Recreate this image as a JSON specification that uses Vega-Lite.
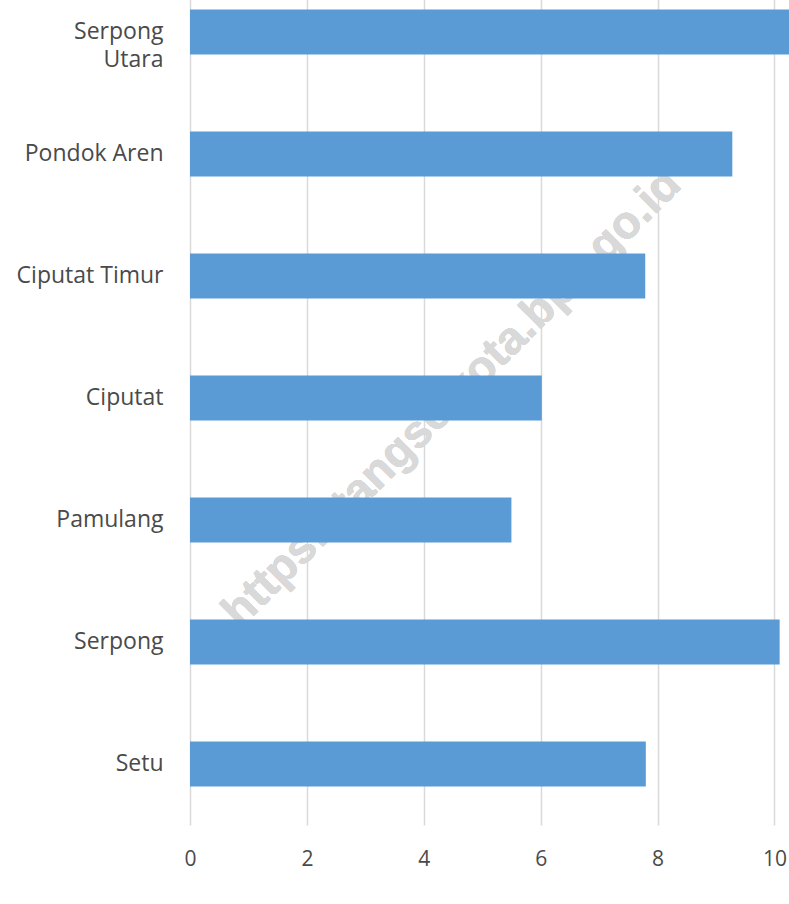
{
  "$schema": "https://vega.github.io/schema/vega-lite/v6.json",
  "autosize": "none",
  "width": 599,
  "height": 854,
  "padding": {"left": 190, "top": -29, "right": 0, "bottom": 79},
  "background": "white",
  "config": {
    "view": {"stroke": null},
    "font": "Open Sans"
  },
  "data": {
    "values": [
      {"kecamatan": "Serpong Utara", "nilai": 10.4},
      {"kecamatan": "Pondok Aren", "nilai": 9.28},
      {"kecamatan": "Ciputat Timur", "nilai": 7.79},
      {"kecamatan": "Ciputat", "nilai": 6.02},
      {"kecamatan": "Pamulang", "nilai": 5.5},
      {"kecamatan": "Serpong", "nilai": 10.09},
      {"kecamatan": "Setu", "nilai": 7.8}
    ]
  },
  "layer": [
    {
      "mark": {"type": "text", "text": "https://tangselkota.bps.go.id", "angle": -45, "fontSize": 46, "fontWeight": "bold", "color": "#d9d9d9", "font": "Liberation Sans", "align": "center", "baseline": "middle"},
      "encoding": {
        "x": {"datum": 4.48, "type": "quantitative"},
        "y": {"datum": "Ciputat", "type": "nominal"}
      }
    },
    {
      "mark": {"type": "bar", "color": "#5B9BD5"},
      "encoding": {
        "y": {
          "field": "kecamatan",
          "type": "nominal",
          "sort": null,
          "scale": {"domain": ["Serpong Utara", "Pondok Aren", "Ciputat Timur", "Ciputat", "Pamulang", "Serpong", "Setu"], "paddingInner": 0.631, "paddingOuter": 0.3155},
          "axis": {
            "title": null,
            "domain": false,
            "ticks": false,
            "grid": false,
            "labelPadding": 27,
            "labelFontSize": 23,
            "labelColor": "#4a4a4a",
            "labelLineHeight": 28,
            "labelExpr": "datum.label == 'Serpong Utara' ? ['Serpong', 'Utara'] : datum.label"
          }
        },
        "x": {
          "field": "nilai",
          "type": "quantitative",
          "scale": {"domain": [0, 10.25], "nice": false},
          "axis": {
            "title": null,
            "values": [0, 2, 4, 6, 8, 10],
            "format": "d",
            "domain": false,
            "ticks": false,
            "grid": true,
            "gridColor": "#d9d9d9",
            "gridWidth": 1.5,
            "labelPadding": 34,
            "labelFontSize": 21,
            "labelColor": "#4a4a4a",
            "labelBaseline": "middle",
            "labelFlush": false
          }
        }
      }
    }
  ]
}
